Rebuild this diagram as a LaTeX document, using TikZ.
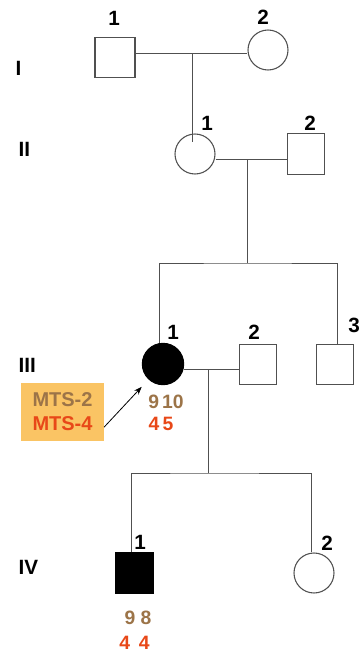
\documentclass[tikz,border=0pt]{standalone}
\usepackage{fontspec}
\setmainfont{Liberation Sans}
\usetikzlibrary{calc,arrows.meta}

\definecolor{marron}{RGB}{156,116,72}
\definecolor{rojo}{RGB}{232,72,24}
\definecolor{naranja}{RGB}{250,196,100}
\definecolor{linea}{RGB}{80,80,80}

\begin{document}
\begin{tikzpicture}[x=0.75pt,y=-0.75pt,
    varon/.style={draw=linea, line width=0.8pt, fill=white, inner sep=0pt,
                  minimum width=27.5pt, minimum height=30.5pt},
    mujer/.style={circle, draw=linea, line width=0.8pt, fill=white, inner sep=0pt,
                  minimum size=30pt},
    afectado/.style={fill=black, draw=black},
    union/.style={draw=linea, line width=0.75pt},
    numero/.style={font=\bfseries\fontsize{15.5}{18}\selectfont},
    generacion/.style={anchor=west, font=\bfseries\fontsize{15.5}{18}\selectfont},
    alelo/.style={font=\bfseries\fontsize{14.5}{17}\selectfont, inner sep=0pt},
    recuadro/.style={fill=naranja, align=center, inner sep=0pt,
                     minimum width=62pt, minimum height=43.5pt,
                     font=\bfseries\fontsize{15}{18}\selectfont},
    flecha/.style={-{Stealth[length=6pt,width=4.5pt]}, line width=0.6pt, shorten >=7.5pt}]

    % Marco de la figura
    \useasboundingbox (0,0) rectangle (358,657);

    % Generaciones
    \node[generacion] (gI)   at (11,68)  {I};
    \node[generacion] (gII)  at (14,149) {II};
    \node[generacion] (gIII) at (14,365) {III};
    \node[generacion] (gIV)  at (14,567) {IV};

    % Individuos
    \node[varon, minimum width=30pt, minimum height=30pt] (I1) at (115,57.5) {};
    \node[mujer] (I2) at (268,50) {};
    \node[mujer] (II1) at (195,154) {};
    \node[varon] (II2) at (306,154) {};
    \node[mujer, afectado, minimum size=31pt] (III1) at (163,364) {};
    \node[varon] (III2) at (258,364.5) {};
    \node[varon] (III3) at (335,364.5) {};
    \node[varon, afectado, minimum width=28pt] (IV1) at (134.5,573) {};
    \node[mujer] (IV2) at (314,573) {};

    % Numeros de cada individuo
    \node[numero] (nI1)   at (114,18)  {1};
    \node[numero] (nI2)   at (263,17)  {2};
    \node[numero] (nII1)  at (207,123) {1};
    \node[numero] (nII2)  at (310,123) {2};
    \node[numero] (nIII1) at (173,332) {1};
    \node[numero] (nIII2) at (254,332) {2};
    \node[numero] (nIII3) at (354,325) {3};
    \node[numero] (nIV1)  at (140,542) {1};
    \node[numero] (nIV2)  at (327,543) {2};

    % Puntos de union y de descendencia
    \coordinate (m1) at (192,53);
    \coordinate (m2) at (247,159);
    \coordinate (h3) at (247,263);
    \coordinate (m3) at (208,369);
    \coordinate (h4) at (208,473);

    % Lineas del pedigri
    \draw[union] (I1.east |- m1) -- (I2.west |- m1);
    \draw[union] (m1) -- ($(m1 |- II1.north)+(0,9)$);
    \draw[union] (II1.east |- m2) -- (II2.west |- m2);
    \draw[union] (m2) -- (h3);
    \draw[union] ([xshift=-3pt]III1.north) |- (h3) -| ([xshift=1.5pt]III3.north);
    \draw[union] (III1.east |- m3) -- (III2.west |- m3);
    \draw[union] (m3) -- (h4);
    \draw[union] ([xshift=-1.9pt]IV1.north) |- (h4) -| ([xshift=-2.2pt]IV2.north);

    % Alelos
    \node[alelo, text=marron] (aIII1) at (166,402) {9\,10};
    \node[alelo, text=rojo]   (bIII1) at (161,424) {4\,5};
    \node[alelo, text=marron] (aIV1)  at (138,618) {9\hspace{4pt}8};
    \node[alelo, text=rojo]   (bIV1)  at (134.5,643) {4\hspace{6.5pt}4};

    % Marcadores y flecha
    \node[recuadro] (mts) at (62.5,412) {\textcolor{marron}{MTS-2}\\\textcolor{rojo}{MTS-4}};
    \draw[flecha] (mts.-20) -- (III1);
\end{tikzpicture}
\end{document}
